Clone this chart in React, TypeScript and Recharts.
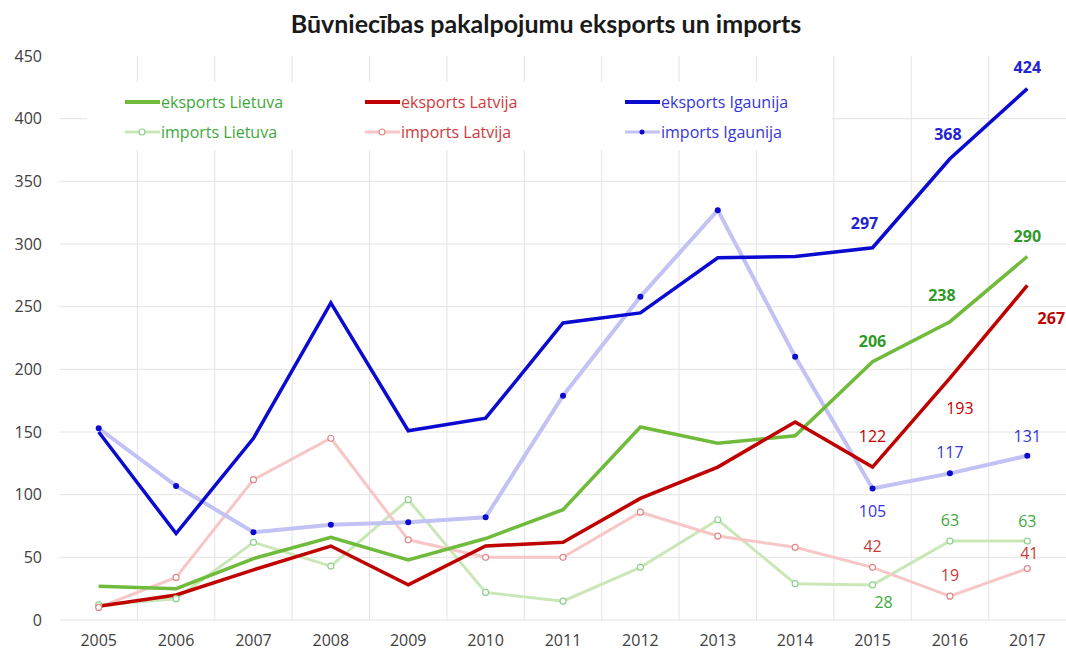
import { LineChart, Line, XAxis, YAxis, CartesianGrid, ReferenceLine, LabelList } from "recharts"

const years = ["2005", "2006", "2007", "2008", "2009", "2010", "2011", "2012", "2013", "2014", "2015", "2016", "2017"]

const eksportsLietuva = [27, 25, 49, 66, 48, 65, 88, 154, 141, 147, 206, 238, 290]
const eksportsLatvija = [11, 20, 40, 59, 28, 59, 62, 97, 122, 158, 122, 193, 267]
const eksportsIgaunija = [150, 69, 145, 253, 151, 161, 237, 245, 289, 290, 297, 368, 424]
const importsLietuva = [12, 17, 62, 43, 96, 22, 15, 42, 80, 29, 28, 63, 63]
const importsLatvija = [10, 34, 112, 145, 64, 50, 50, 86, 67, 58, 42, 19, 41]
const importsIgaunija = [153, 107, 70, 76, 78, 82, 179, 258, 327, 210, 105, 117, 131]

const yTicks = [0, 50, 100, 150, 200, 250, 300, 350, 400, 450]

const data = years.map((year, i) => ({
  i,
  year,
  eksLt: eksportsLietuva[i],
  eksLv: eksportsLatvija[i],
  eksEe: eksportsIgaunija[i],
  impLt: importsLietuva[i],
  impLv: importsLatvija[i],
  impEe: importsIgaunija[i],
}))

const FONT = "'Open Sans', sans-serif"

// label offsets per point index: [dx, dy, bold]
type LabelCfg = Record<number, [number, number, boolean]>

const makeLabel = (cfg: LabelCfg, color: string) => (props: any) => {
  const { x, y, value, index } = props
  const c = cfg[index]
  if (!c) return null
  return (
    <text
      x={x + c[0]}
      y={y + c[1]}
      textAnchor="middle"
      dominantBaseline="central"
      fill={color}
      fontFamily={FONT}
      fontSize={16}
      fontWeight={c[2] ? 700 : 400}
    >
      {value}
    </text>
  )
}

const legendItems = [
  { label: "eksports Lietuva", line: "#70bb3c", width: 4, marker: "none", text: "#3ea83a" },
  { label: "eksports Latvija", line: "#c00000", width: 4, marker: "none", text: "#d03a3a" },
  { label: "eksports Igaunija", line: "#0a0ad0", width: 4, marker: "none", text: "#3535d8" },
  { label: "imports Lietuva", line: "#cbe7b8", width: 3, marker: "hollow", dot: "#8fcf8f", text: "#3ea83a" },
  { label: "imports Latvija", line: "#f7c6c6", width: 3, marker: "hollow", dot: "#e08888", text: "#d03a3a" },
  { label: "imports Igaunija", line: "#c2c2f5", width: 3, marker: "filled", dot: "#0a0ad0", text: "#3535d8" },
]

const legendCols = [125, 365, 625]

function ChartLegend() {
  return (
    <div style={{ position: "absolute", left: 87, top: 82, width: 745, height: 68, background: "#fff" }}>
      {legendItems.map((it, k) => {
        const col = k % 3
        const row = Math.floor(k / 3)
        return (
          <div
            key={it.label}
            style={{
              position: "absolute",
              left: legendCols[col] - 87,
              top: 8 + row * 30,
              height: 24,
              display: "flex",
              alignItems: "center",
              fontFamily: FONT,
              fontSize: 16,
              color: it.text,
              whiteSpace: "nowrap",
            }}
          >
            <svg width={35} height={12} style={{ marginRight: 1 }}>
              <line x1={0} y1={6} x2={35} y2={6} stroke={it.line} strokeWidth={it.width} />
              {it.marker === "hollow" && <circle cx={17} cy={6} r={3} fill="#fff" stroke={it.dot} strokeWidth={1.2} />}
              {it.marker === "filled" && <circle cx={17} cy={6} r={2.5} fill={it.dot} />}
            </svg>
            <span>{it.label}</span>
          </div>
        )
      })}
    </div>
  )
}

export default function App() {
  return (
    <div style={{ position: "fixed", left: 0, top: 0, width: 1066, height: 653, background: "#fff" }}>
      <div
        style={{
          position: "absolute",
          left: 13,
          top: 8,
          width: 1066,
          textAlign: "center",
          fontFamily: "Lato, sans-serif",
          fontWeight: 700,
          fontSize: 25,
          color: "#1a1a1a",
        }}
      >
        Būvniecības pakalpojumu eksports un imports
      </div>
      <LineChart width={1066} height={653} data={data} margin={{ top: 56, right: 0, left: 10, bottom: 0 }}>
        <CartesianGrid vertical={false} horizontalValues={yTicks.slice(0, -1)} stroke="#e4e4e4" />
        {years.slice(1).map((_, k) => (
          <ReferenceLine key={k} x={k + 0.5} stroke="#e4e4e4" />
        ))}
        <XAxis
          dataKey="i"
          type="number"
          domain={[-0.5, 12.5]}
          ticks={years.map((_, i) => i)}
          tickFormatter={(v) => years[v]}
          axisLine={false}
          tickLine={false}
          tickMargin={9}
          height={33}
          tick={{ fill: "#404040", fontSize: 16, fontFamily: FONT }}
        />
        <YAxis
          domain={[0, 450]}
          ticks={yTicks}
          axisLine={false}
          tickLine={false}
          tickMargin={12}
          width={50}
          tick={{ fill: "#404040", fontSize: 16, fontFamily: FONT }}
        />
        <Line
          dataKey="impLt"
          stroke="#cbe7b8"
          strokeWidth={3}
          dot={{ r: 3, fill: "#fff", stroke: "#8fcf8f", strokeWidth: 1.2 }}
          isAnimationActive={false}
        >
          <LabelList content={makeLabel({ 10: [11, 17, false], 11: [0, -21, false], 12: [0, -20, false] }, "#3ea83a")} />
        </Line>
        <Line
          dataKey="impLv"
          stroke="#f7c6c6"
          strokeWidth={3}
          dot={{ r: 3, fill: "#fff", stroke: "#e08888", strokeWidth: 1.2 }}
          isAnimationActive={false}
        >
          <LabelList content={makeLabel({ 10: [0, -21, false], 11: [0, -21, false], 12: [2, -16, false] }, "#c83a3a")} />
        </Line>
        <Line
          dataKey="impEe"
          stroke="#c2c2f5"
          strokeWidth={4}
          dot={{ r: 3, fill: "#0a0ad0", stroke: "#0a0ad0", strokeWidth: 0 }}
          isAnimationActive={false}
        >
          <LabelList content={makeLabel({ 10: [0, 23, false], 11: [0, -21, false], 12: [0, -20, false] }, "#3535d8")} />
        </Line>
        <Line dataKey="eksLt" stroke="#70bb3c" strokeWidth={3.5} dot={false} isAnimationActive={false}>
          <LabelList content={makeLabel({ 10: [0, -21, true], 11: [-8, -27, true], 12: [0, -21, true] }, "#2f9a2a")} />
        </Line>
        <Line dataKey="eksLv" stroke="#c00000" strokeWidth={3.5} dot={false} isAnimationActive={false}>
          <LabelList content={makeLabel({ 10: [0, -31, false], 11: [10, 30, false], 12: [24, 33, true] }, "#c00000")} />
        </Line>
        <Line dataKey="eksEe" stroke="#0a0ad0" strokeWidth={3.5} dot={false} isAnimationActive={false}>
          <LabelList content={makeLabel({ 10: [-8, -25, true], 11: [-2, -25, true], 12: [0, -22, true] }, "#2323d0")} />
        </Line>
      </LineChart>
      <ChartLegend />
    </div>
  )
}
